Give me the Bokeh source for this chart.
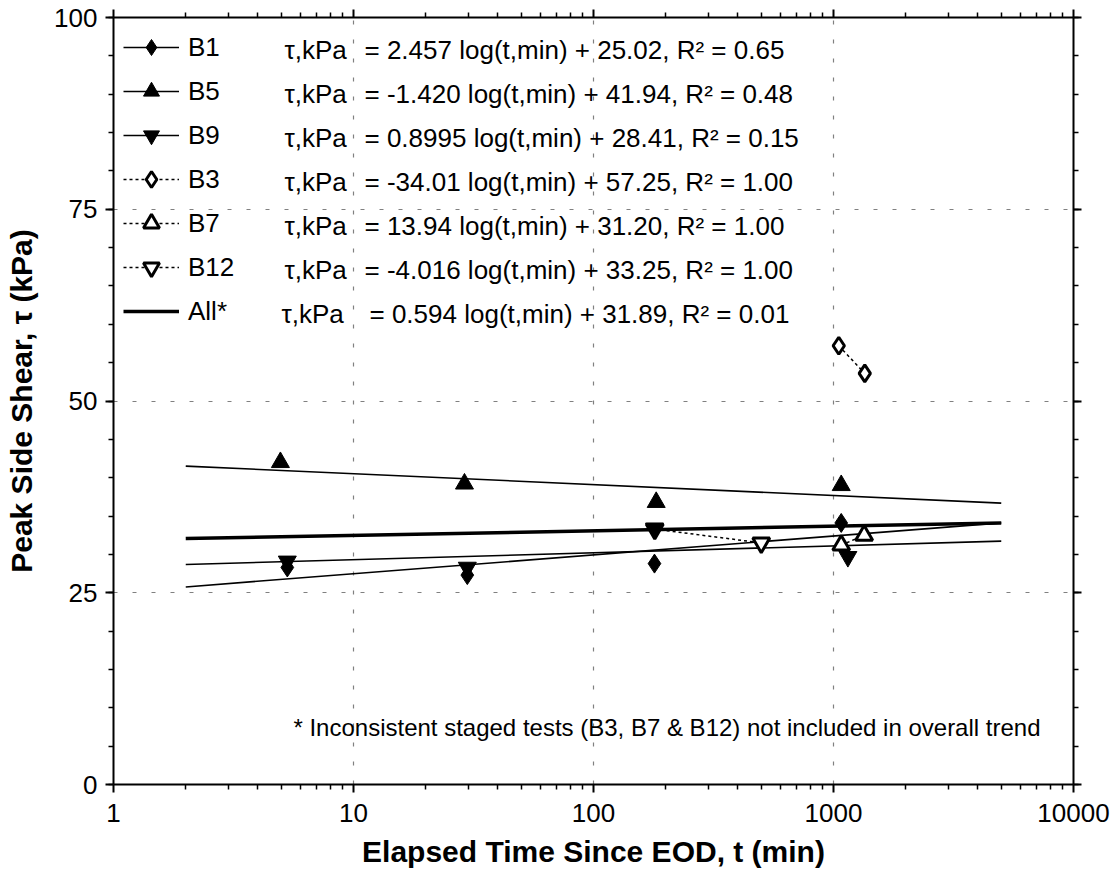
import numpy as np
from bokeh.plotting import figure
from bokeh.models import (Range1d, LinearAxis, LogAxis, Legend, LegendItem, Label,
                          FixedTicker, BasicTickFormatter)
from bokeh.embed import file_html
from bokeh.resources import INLINE

# ---------------- data ----------------
b1_t = [5.3, 29.8, 179.5, 1077]
b1_tau = [28.3, 27.3, 28.8, 34.1]
b5_t = [4.96, 29.0, 182.5, 1077]
b5_tau = [42.0, 39.2, 36.8, 39.0]
b9_t = [5.3, 29.8, 179.5, 1148]
b9_tau = [29.1, 28.3, 33.4, 29.7]
b3_t = [1052, 1350]
b3_tau = [57.2, 53.6]
b7_t = [1077, 1342]
b7_tau = [31.2, 32.5]
b12_t = [180, 500]
b12_tau = [33.3, 31.5]

fit_names = ["B1", "B5", "B9", "All*"]
fit_slopes = [2.457, -1.420, 0.8995, 0.594]
fit_intercepts = [25.02, 41.94, 28.41, 31.89]
fit_t = [2, 5000]

legend_names = ["B1", "B5", "B9", "B3", "B7", "B12", "All*"]
eq_prefix = "τ,kPa"
equations = [
    "= 2.457 log(t,min) + 25.02, R² = 0.65",
    "= -1.420 log(t,min) + 41.94, R² = 0.48",
    "= 0.8995 log(t,min) + 28.41, R² = 0.15",
    "= -34.01 log(t,min) + 57.25, R² = 1.00",
    "= 13.94 log(t,min) + 31.20, R² = 1.00",
    "= -4.016 log(t,min) + 33.25, R² = 1.00",
    "= 0.594 log(t,min) + 31.89, R² = 0.01",
]
footnote = "* Inconsistent staged tests (B3, B7 & B12) not included in overall trend"

x_ticks = [1, 10, 100, 1000, 10000]
y_ticks = [0, 25, 50, 75, 100]
x_minor = [m * 10 ** d for d in range(4) for m in range(2, 10)]
y_minor = list(range(0, 101, 5))

FONT = "Liberation Sans"

# ---------------- figure ----------------
p = figure(width=1119, height=883, x_axis_type="log",
           x_range=Range1d(1, 10000), y_range=Range1d(0, 100),
           output_backend="svg", toolbar_location=None,
           min_border_left=113, min_border_right=46,
           min_border_top=17, min_border_bottom=99,
           x_axis_label="Elapsed Time Since EOD, t (min)",
           y_axis_label="Peak Side Shear, τ (kPa)")
p.outline_line_color = None
p.background_fill_color = "white"
p.border_fill_color = "white"

xticker = FixedTicker(ticks=x_ticks, minor_ticks=x_minor)
yticker = FixedTicker(ticks=y_ticks, minor_ticks=y_minor)


def style_axis(ax, show_labels=True):
    ax.axis_line_width = 2
    ax.axis_line_color = "black"
    ax.major_tick_line_width = 2
    ax.minor_tick_line_width = 1.5
    ax.major_tick_line_color = "black"
    ax.minor_tick_line_color = "black"
    ax.major_tick_in = 0
    ax.major_tick_out = 8
    ax.minor_tick_in = 0
    ax.minor_tick_out = 5
    ax.major_label_text_font = FONT
    if show_labels:
        ax.major_label_text_color = "black"
        ax.major_label_text_font_size = "26px"
    else:
        ax.major_label_text_font_size = "1px"
        ax.major_label_text_alpha = 0
        ax.major_label_standoff = 0
    ax.axis_label_text_font = FONT
    ax.axis_label_text_font_size = "30px"
    ax.axis_label_text_font_style = "bold"
    ax.axis_label_text_color = "black"


xa = p.xaxis[0]
ya = p.yaxis[0]
xa.ticker = xticker
ya.ticker = yticker
xa.formatter = BasicTickFormatter()
style_axis(xa)
style_axis(ya)
xa.major_label_standoff = 11
xa.axis_label_standoff = 10
ya.major_label_standoff = 8
ya.axis_label_standoff = 13

ra = LinearAxis(ticker=yticker)
style_axis(ra, False)
p.add_layout(ra, "right")
ta = LogAxis(ticker=xticker)
style_axis(ta, False)
p.add_layout(ta, "above")

p.xgrid.ticker = FixedTicker(ticks=x_ticks)
p.ygrid.ticker = FixedTicker(ticks=y_ticks)
for g in (p.xgrid, p.ygrid):
    g.grid_line_color = "#808080"
    g.grid_line_dash = "4 15"
    g.grid_line_width = 1.2

# ---------------- trend lines ----------------
fit_r = {}
for name, m, b in zip(fit_names, fit_slopes, fit_intercepts):
    tau = [m * np.log10(t) + b for t in fit_t]
    lw = 3.5 if name == "All*" else 1.6
    fit_r[name] = p.line(fit_t, tau, line_color="black", line_width=lw)

# staged tests (dotted connectors + open markers), drawn first
conn_b3 = p.line(b3_t, b3_tau, line_color="black", line_width=1.5, line_dash="3 3")
conn_b7 = p.line(b7_t, b7_tau, line_color="black", line_width=1.5, line_dash="3 3")
conn_b12 = p.line(b12_t, b12_tau, line_color="black", line_width=1.5, line_dash="3 3")

s_b3 = p.scatter(b3_t, b3_tau, marker="diamond", size=17,
                 fill_color="white", line_color="black", line_width=3)
s_b7 = p.scatter(b7_t, b7_tau, marker="triangle", size=17,
                 fill_color="white", line_color="black", line_width=3)
s_b12 = p.scatter(b12_t, b12_tau, marker="inverted_triangle", size=17,
                  fill_color="white", line_color="black", line_width=3)

s_b1 = p.scatter(b1_t, b1_tau, marker="diamond", size=19,
                 fill_color="black", line_color="black")
s_b5 = p.scatter(b5_t, b5_tau, marker="triangle", size=18,
                 fill_color="black", line_color="black")
s_b9 = p.scatter(b9_t, b9_tau, marker="inverted_triangle", size=18,
                 fill_color="black", line_color="black")

items = [
    LegendItem(label=legend_names[0], renderers=[fit_r["B1"], s_b1]),
    LegendItem(label=legend_names[1], renderers=[fit_r["B5"], s_b5]),
    LegendItem(label=legend_names[2], renderers=[fit_r["B9"], s_b9]),
    LegendItem(label=legend_names[3], renderers=[conn_b3, s_b3]),
    LegendItem(label=legend_names[4], renderers=[conn_b7, s_b7]),
    LegendItem(label=legend_names[5], renderers=[conn_b12, s_b12]),
    LegendItem(label=legend_names[6], renderers=[fit_r["All*"]]),
]
legend = Legend(items=items, location="top_left", glyph_width=56, glyph_height=40,
                label_height=40, spacing=4, label_standoff=9, padding=2, margin=10,
                border_line_color=None, background_fill_alpha=0,
                label_text_font=FONT, label_text_font_size="26px",
                label_text_color="black")
p.add_layout(legend)

# equation texts (frame-relative screen units; frame bottom = 0)
row0 = 784 - 49
for i, eq in enumerate(equations):
    cy = row0 - 44 * i
    is_all = legend_names[i] == "All*"
    p.add_layout(Label(x=168 if is_all else 171, y=cy, x_units="screen", y_units="screen",
                       text=eq_prefix, text_font=FONT, text_font_size="26px",
                       text_baseline="middle", text_color="black"))
    p.add_layout(Label(x=256 if is_all else 251, y=cy, x_units="screen", y_units="screen",
                       text=eq, text_font=FONT, text_font_size="26px",
                       text_baseline="middle", text_color="black"))

p.add_layout(Label(x=927, y=57, x_units="screen", y_units="screen",
                   text=footnote, text_font=FONT, text_font_size="24px",
                   text_align="right", text_baseline="middle", text_color="black"))

open("out.html", "w").write(file_html(p, INLINE))
